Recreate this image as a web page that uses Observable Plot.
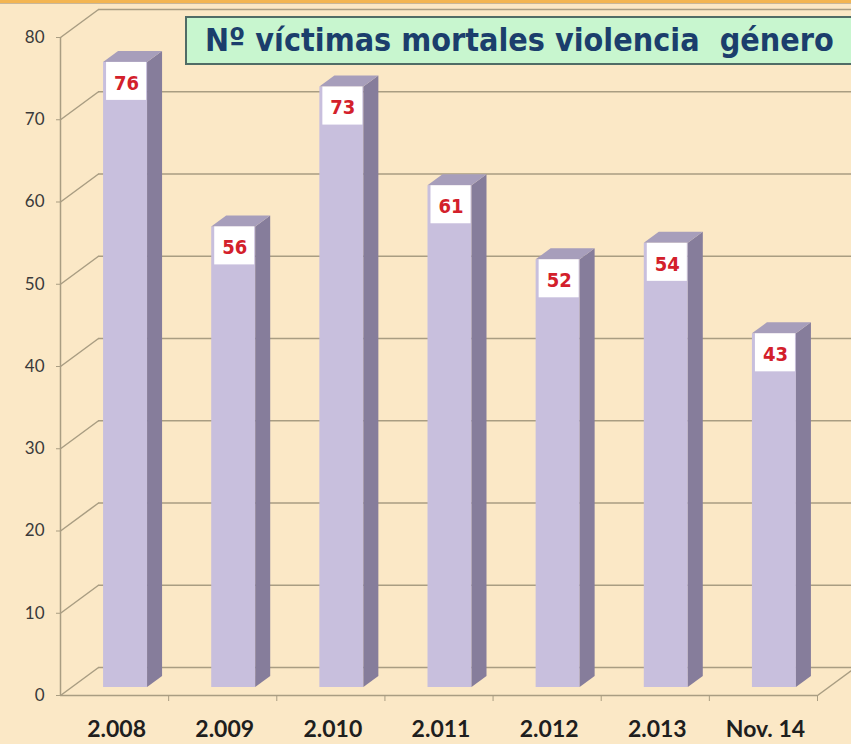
<!DOCTYPE html>
<html>
<head>
<meta charset="utf-8">
<script src="https://cdn.jsdelivr.net/npm/d3@7"></script>
<script src="https://cdn.jsdelivr.net/npm/@observablehq/plot@0.6"></script>
<style>
  html, body { margin: 0; padding: 0; background: #fbe8c6; }
  #wrap { position: relative; width: 851px; height: 744px; overflow: hidden; background: #fbe8c6; }
  #topstrip { position: absolute; left: 0; top: 0; width: 851px; height: 3px; background: #f3b552; border-bottom: 1px solid #c9b79a; }
  #title { position: absolute; left: 185px; top: 16px; width: 653px; height: 45px; border: 2px solid #506c66;
           background: #c8f6cf; color: #1b3e6c; font-family: "DejaVu Sans Condensed", "DejaVu Sans", sans-serif;
           font-weight: bold; font-size: 32px; line-height: 45px; white-space: pre; padding-left: 18px; box-sizing: content-box; }
  #chart { position: absolute; left: 0; top: 0; }
</style>
</head>
<body>
<div id="wrap">
  <div id="chart"></div>
  <div id="topstrip"></div>
  <div id="title">Nº víctimas mortales violencia  género</div>
</div>
<script>
// ---- data ----
const categories = ["2.008", "2.009", "2.010", "2.011", "2.012", "2.013", "Nov. 14"];
const values = [76, 56, 73, 61, 52, 54, 43];
const yTicks = [0, 10, 20, 30, 40, 50, 60, 70, 80];

// ---- geometry constants (in data units of the scales) ----
const PX_PER_X = (817 - 60) / 7;      // px per category step
const PX_PER_Y = (695 - 37) / 80;     // px per value unit
const WALL_DX = 38 / PX_PER_X, WALL_DY = 28 / PX_PER_Y;   // depth of the back wall
const BAR_DX = 15 / PX_PER_X, BAR_DY = 11 / PX_PER_Y;     // depth of a bar
const HW = 22 / PX_PER_X;                                  // half bar width

const data = categories.map((c, i) => ({ i, c, v: values[i] }));
const sidePts = data.flatMap(d => [
  { i: d.i, x: d.i + HW, y1: 0, y2: d.v },
  { i: d.i, x: d.i + HW + BAR_DX, y1: BAR_DY, y2: d.v + BAR_DY }
]);
const topPts = data.flatMap(d => [
  { i: d.i, y: d.v, x1: d.i - HW, x2: d.i + HW },
  { i: d.i, y: d.v + BAR_DY, x1: d.i - HW + BAR_DX, x2: d.i + HW + BAR_DX }
]);
const boundaries = categories.map((c, i) => i + 0.5);

const grid = "#a99d82";
const barOff = { dx: 11, dy: -8 };

const chart = Plot.plot({
  width: 851,
  height: 744,
  marginLeft: 60,
  marginRight: 34,
  marginTop: 37,
  marginBottom: 49,
  style: { background: "transparent", fontFamily: "Lato, 'Open Sans', sans-serif", color: "#333" },
  x: { type: "linear", domain: [-0.5, 6.5] },
  y: { domain: [0, 80] },
  marks: [
    // back wall gridlines
    Plot.ruleY(yTicks, { y: d => d + WALL_DY, x1: -0.5 + WALL_DX, x2: 6.5 + WALL_DX, stroke: grid, strokeWidth: 1.5 }),
    // left wall diagonals
    Plot.link(yTicks, { x1: -0.5, y1: d => d, x2: -0.5 + WALL_DX, y2: d => d + WALL_DY, stroke: grid, strokeWidth: 1.5 }),
    // right floor diagonal
    Plot.link([0], { x1: 6.5, y1: 0, x2: 6.5 + WALL_DX, y2: WALL_DY, stroke: grid, strokeWidth: 1.5 }),
    // front axis lines
    Plot.ruleX([-0.5], { y1: 0, y2: 80, stroke: grid, strokeWidth: 1.5 }),
    Plot.ruleY([0], { x1: -0.5, x2: 6.5, stroke: grid, strokeWidth: 1.5 }),
    Plot.axisY(yTicks, { tickSize: 4, tickPadding: 12, fontSize: 17, stroke: grid, fill: "#3a3a3a" }),
    Plot.axisX(boundaries, { tickSize: 6, tickFormat: () => "", stroke: grid }),
    Plot.axisX(data.map(d => d.i), {
      tickSize: 0, tickPadding: 25, fontSize: 23, fontWeight: "bold", fill: "#1e1e1e", dx: 2,
      tickFormat: i => categories[i]
    }),
    // bars: front, side, top
    Plot.rect(data, { x1: d => d.i - HW, x2: d => d.i + HW, y1: 0, y2: d => d.v, fill: "#c8bfdd", ...barOff }),
    Plot.areaY(sidePts, { x: "x", y1: "y1", y2: "y2", z: "i", fill: "#867d9b", ...barOff }),
    Plot.areaX(topPts, { y: "y", x1: "x1", x2: "x2", z: "i", fill: "#a79ebb", ...barOff }),
    // value labels
    Plot.rect(data, { x1: d => d.i - HW, x2: d => d.i + HW, y1: d => d.v, y2: d => d.v,
      insetLeft: 3, insetRight: 1, insetBottom: -38, fill: "#ffffff", ...barOff }),
    Plot.text(data, { x: "i", y: "v", text: d => String(d.v), dx: 12, dy: 13, fill: "#d3202b",
      fontSize: 20, fontWeight: "bold", fontFamily: "'DejaVu Sans Condensed', 'DejaVu Sans', sans-serif" })
  ]
});
document.getElementById("chart").appendChild(chart);
</script>
</body>
</html>
